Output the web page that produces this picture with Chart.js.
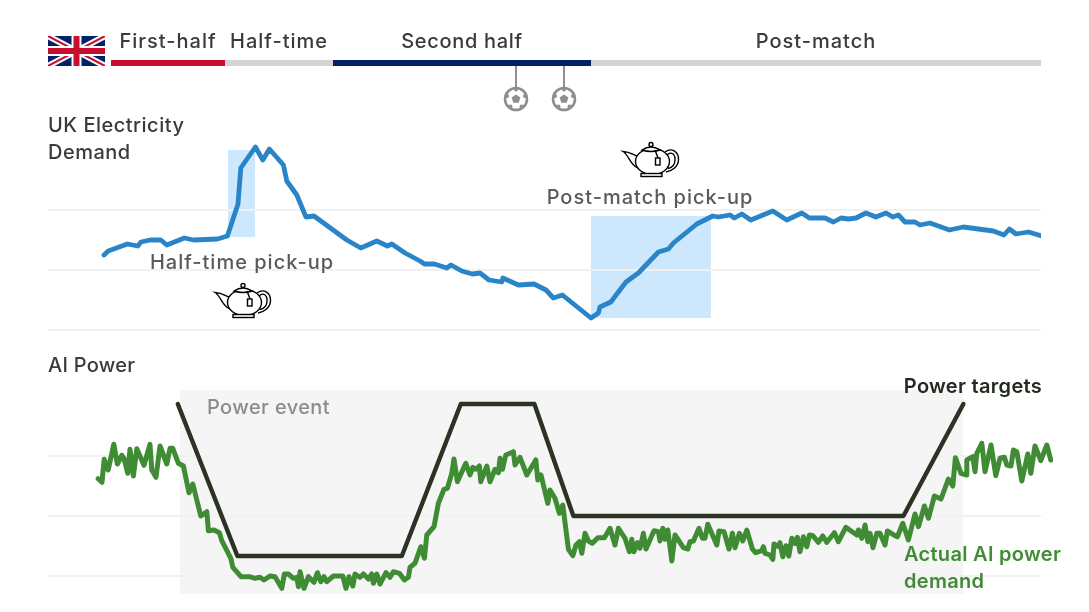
<!DOCTYPE html>
<html>
<head>
<meta charset="utf-8">
<title>UK Electricity Demand and AI Power</title>
<script src="https://cdn.jsdelivr.net/npm/chart.js@4/dist/chart.umd.min.js"></script>
<style>
  html, body { margin: 0; padding: 0; background: #fff; overflow: hidden; }
  canvas { position: absolute; left: 0; }
  #demandChart { top: 0; }
  #powerChart { top: 340px; }
</style>
</head>
<body>
<canvas id="demandChart" width="1089" height="340"></canvas>
<canvas id="powerChart" width="1089" height="272"></canvas>
<script>
// match timeline, x is notional minutes from kick-off
const phaseLabels = ['First-half', 'Half-time', 'Second half', 'Post-match'];
const phaseEdges = [0, 57, 111, 240, 465];
const phaseColors = ['#c8102e', '#d4d4d4', '#012169', '#d4d4d4'];
const goalTimes = [202.5, 226.5];
const timeMin = -31.5;
const timeMax = 465;

const demandTimes = [-3.5, -1.4, 8.2, 13.4, 15, 19.5, 24.9, 27.9, 36.7, 41.2, 53.2, 58.2, 63.5, 64.9, 72.2, 75.9, 79.2, 86.2, 87.9, 92.9,
  97.5, 101.5, 117.9, 124.9, 132.9, 138.2, 140.4, 147, 154.5, 156.7, 161.7, 167.9, 170, 175.4, 180.7, 184.5, 189, 195.4, 195.9, 203.7,
  211.5, 217.5, 221.2, 225.7, 240, 243.7, 244.5, 249.9, 257.5, 263.7, 273.7, 278.7, 281.2, 292.9, 300.9, 303.7, 309.5, 311.7, 315.4, 319.9,
  330.9, 337.9, 345.4, 349.2, 357, 361.2, 365, 368.7, 372.5, 377.5, 382.4, 387.5, 390.9, 393.7, 397, 402, 404.5, 409.5, 419.2, 426.2,
  441.2, 446.5, 449.2, 452.5, 458.7, 465.4];
const demandValues = [37.5, 37.9, 38.6, 38.4, 38.8, 39, 39, 38.5, 39.2, 39, 39.1, 39.4, 42.6, 46.2, 48.3, 47, 48.1, 46.5, 44.9, 43.5,
  41.3, 41.4, 39, 38.2, 38.9, 38.4, 38.6, 37.7, 36.9, 36.6, 36.6, 36.2, 36.5, 35.9, 35.6, 35.7, 35, 34.8, 35.2, 34.5,
  34.6, 34, 33.2, 33.5, 31.2, 31.7, 32.3, 32.8, 34.8, 35.7, 37.8, 38.1, 38.7, 40.6, 41.4, 41.3, 41.5, 41.2, 41.6, 41,
  41.9, 41, 41.7, 41.2, 41.2, 40.8, 41.2, 41.1, 41.2, 41.7, 41.3, 41.7, 41.3, 41.5, 40.8, 40.8, 40.5, 40.7, 40, 40.3,
  39.9, 39.5, 40.1, 39.6, 39.8, 39.4];
const demandTicks = [30, 36, 42];

const powerTimes = [-6.4, -4.5, -3.4, -1.4, 1.4, 3.2, 5.4, 6.5, 8.4, 9.5, 11.2, 12.9, 16.5, 19.5, 20.4, 22.5, 24.5, 27.9, 29.5, 30.9,
  33.7, 36.2, 39, 40.9, 44.9, 47.9, 48.7, 51.5, 54.2, 55.4, 59.9, 60.9, 65, 69.2, 72, 74.5, 76.5, 79.5, 82, 85.4,
  86.7, 88.7, 91.2, 92.9, 93.7, 94.5, 96.5, 98.7, 101.5, 103.2, 104.9, 106.5, 107.9, 111.2, 115.9, 117.5, 119, 120.9, 122, 124.5,
  126.2, 128.7, 130.4, 131.2, 132.9, 134.5, 137.5, 139.5, 141.2, 144.2, 146.7, 148.7, 149.5, 152, 154.9, 156.7, 157.9, 161.5, 163.7, 166.5,
  168.2, 170.4, 171.5, 173.2, 177.4, 179.5, 180.9, 182.5, 184.2, 184.9, 187.9, 189.5, 192, 193.7, 194.5, 195.7, 197.4, 201.2, 202, 204.5,
  207.9, 212.4, 213.4, 215, 218.4, 219.5, 222, 224.2, 225.9, 228.7, 230.9, 232.5, 234.2, 235.4, 237, 238.7, 240.7, 243.4, 246.7, 249.5,
  252, 253.7, 257, 259.2, 260.4, 261.5, 263.2, 264.5, 266.2, 267.5, 271.5, 273.7, 274.5, 275.9, 277, 278.4, 280.4, 282, 286.2, 288.4,
  289.5, 291.2, 294, 295.7, 297, 298.4, 302.9, 304, 306.5, 309, 310.7, 312, 314.2, 315.9, 317.9, 320.7, 322.4, 325.4, 326.2, 327,
  329.5, 330.9, 331.5, 333.7, 334.5, 335.9, 337.5, 338.9, 340.4, 342, 343.2, 344.5, 346.2, 347.9, 349.2, 350.9, 353.7, 355.9, 357.9, 361.7,
  363.7, 367.4, 372.9, 373.7, 375.4, 377, 378.4, 379.5, 381, 382.9, 384.5, 387, 388.2, 392, 393.2, 395.9, 398.7, 402, 403.7, 406.7,
  408.7, 411.7, 415, 418.7, 420.9, 422.2, 425, 427.5, 427.9, 430.9, 432, 432.9, 435.4, 437, 440, 442.4, 444.5, 446.7, 447.9, 450,
  451.2, 452.9, 455.4, 458.4, 459.9, 462, 464.9, 467.9, 469.9];
const powerValues = [197.3, 193.7, 216.7, 206, 231.7, 212, 220.7, 217.3, 202.7, 226.7, 200, 227.3, 210.7, 231.7, 206, 198.7, 230, 212, 227.7, 227.7,
  212.7, 210, 183.3, 192, 160, 164.3, 145.3, 146, 143.3, 135.3, 117.7, 108.7, 99.3, 99.3, 97.7, 98.7, 96, 100, 99.3, 87.7,
  102, 102, 97.7, 98.7, 89.3, 104.3, 87.7, 99.3, 93.7, 103.3, 94.3, 99.3, 94.3, 100, 100, 87.7, 99.3, 90, 102, 98.7,
  102, 97, 102, 92.7, 102, 92, 103.3, 98.7, 104.3, 102.7, 96, 98.7, 108.7, 112.7, 129.3, 117.7, 141, 149.3, 172.7, 186.7,
  187.7, 202.7, 217, 194.3, 212.7, 201, 208.7, 206.7, 210, 194.3, 210, 194.3, 206.7, 203.3, 217.7, 206.7, 221, 224.3, 211, 218.7,
  201, 216, 196, 201, 172.7, 186, 177.7, 162.7, 171, 126.7, 120.3, 131, 134.3, 122.7, 142.7, 135, 132.7, 138.3, 138.3, 147.7,
  131, 147.7, 137.7, 124.3, 136.7, 124.3, 133.3, 127.7, 142.7, 127, 145.3, 144.3, 135, 147.7, 136.7, 146, 115, 141, 128.3, 127,
  134.3, 135, 147.7, 137.7, 137.7, 151.7, 131, 145, 144.3, 127, 142.7, 128.3, 142.7, 135, 146, 127, 123.3, 125.3, 129.3, 122.7,
  121, 116.7, 132, 129.3, 133.3, 119.3, 130.3, 120, 137.7, 132.7, 138.7, 124.3, 139.3, 129.3, 141, 140.3, 133.7, 140, 133.7, 143.3,
  134.3, 148.7, 141, 146, 137.7, 151, 134.3, 142.7, 128.3, 142.7, 142.7, 131, 145, 140.3, 139.3, 152.7, 136, 162, 149.3, 170,
  157.7, 180, 177, 197, 190, 218.3, 202.7, 201, 216, 219.3, 204.3, 222.7, 232.7, 204.3, 231, 200.3, 217.7, 218.7, 211, 210,
  226, 224.3, 195, 222, 202.7, 230, 215.3, 231, 216];
const targetTimes = [33.4, 63.2, 145.4, 174.9, 211.7, 231.2, 396.2, 426.2];
const targetValues = [272, 120, 120, 272, 272, 160, 160, 272];
const powerTicks = [100, 160, 220];

const FONT = '"Inter", "Noto Sans", sans-serif';
const GRID_COLOR = '#f1f1f1';

function points(xs, ys) {
  return xs.map((x, i) => ({ x: x, y: ys[i] }));
}

function label(ctx, text, x, y, color, opts) {
  const o = opts || {};
  ctx.save();
  ctx.font = (o.weight || 500) + ' 20px ' + FONT;
  ctx.letterSpacing = (o.spacing === undefined ? 1 : o.spacing) + 'px';
  ctx.fillStyle = color;
  ctx.textAlign = o.align || 'left';
  ctx.textBaseline = 'middle';
  ctx.fillText(text, x, y);
  ctx.restore();
}

// shaded box given in data units
function shade(chart, x1, x2, y1, y2, color) {
  const sx = chart.scales.x, sy = chart.scales.y;
  const left = sx.getPixelForValue(x1), top = sy.getPixelForValue(y2);
  chart.ctx.fillStyle = color;
  chart.ctx.fillRect(left, top, sx.getPixelForValue(x2) - left, sy.getPixelForValue(y1) - top);
}

function drawFlag(ctx, x, y, w, h) {
  ctx.save();
  ctx.beginPath();
  ctx.rect(x, y, w, h);
  ctx.clip();
  ctx.fillStyle = '#012169';
  ctx.fillRect(x, y, w, h);
  ctx.lineWidth = 6;
  ctx.strokeStyle = '#fff';
  ctx.beginPath();
  ctx.moveTo(x, y); ctx.lineTo(x + w, y + h);
  ctx.moveTo(x + w, y); ctx.lineTo(x, y + h);
  ctx.stroke();
  ctx.lineWidth = 2;
  ctx.strokeStyle = '#c8102e';
  ctx.stroke();
  ctx.fillStyle = '#fff';
  ctx.fillRect(x + w / 2 - 5, y, 10, h);
  ctx.fillRect(x, y + h / 2 - 5, w, 10);
  ctx.fillStyle = '#c8102e';
  ctx.fillRect(x + w / 2 - 3, y, 6, h);
  ctx.fillRect(x, y + h / 2 - 3, w, 6);
  ctx.restore();
}

function drawBall(ctx, cx, cy) {
  ctx.save();
  ctx.strokeStyle = '#8f8f8f';
  ctx.fillStyle = '#8f8f8f';
  ctx.lineWidth = 2.6;
  ctx.beginPath();
  ctx.arc(cx, cy, 11, 0, Math.PI * 2);
  ctx.stroke();
  // centre patch
  ctx.beginPath();
  for (let i = 0; i < 5; i++) {
    const a = -Math.PI / 2 + i * Math.PI * 2 / 5;
    ctx.lineTo(cx + 4.6 * Math.cos(a), cy + 4.6 * Math.sin(a));
  }
  ctx.closePath();
  ctx.fill();
  // rim patches stay inside the ring
  for (let i = 0; i < 5; i++) {
    const a = -Math.PI / 2 + i * Math.PI * 2 / 5;
    ctx.beginPath();
    ctx.arc(cx + 9.4 * Math.cos(a), cy + 9.4 * Math.sin(a), 2, 0, Math.PI * 2);
    ctx.fill();
  }
  ctx.restore();
}

function drawTeapot(ctx, x, y) {
  ctx.save();
  ctx.translate(x, y);
  ctx.strokeStyle = '#000';
  ctx.lineWidth = 1.4;
  ctx.fillStyle = '#fff';
  ctx.beginPath();
  ctx.ellipse(42.5, 31.5, 17, 13, 0, 0, Math.PI * 2);
  ctx.fill();
  ctx.stroke();
  ctx.stroke(new Path2D('M27 26 C23 25 21 22 13 21.5 C19 25 20 35 28 38'));
  ctx.stroke(new Path2D('M55 22 C62 17 69 22 68.5 30 C68 37 62 41 56 42'));
  ctx.stroke(new Path2D('M57 25 C61 21 65.5 24 65 30 C65 36 60 38 58 38.5'));
  ctx.fill(new Path2D('M32 20 Q41 14 50 20 Q41 23 32 20 Z'));
  ctx.stroke(new Path2D('M32 20 Q41 14 50 20 Q41 23 32 20 Z'));
  ctx.stroke(new Path2D('M45 20 L48 28'));
  ctx.beginPath();
  ctx.arc(41, 14.5, 2, 0, Math.PI * 2);
  ctx.fill();
  ctx.stroke();
  ctx.fillRect(45.5, 28, 4.5, 7);
  ctx.strokeRect(45.5, 28, 4.5, 7);
  ctx.fillRect(31, 43.5, 21, 3);
  ctx.strokeRect(31, 43.5, 21, 3);
  ctx.restore();
}

const demandDecor = {
  id: 'demandDecor',
  beforeDraw(chart) {
    // pick-up boxes go under the grid lines
    shade(chart, 58.5, 72, 39.3, 48, '#cde8fd');
    shade(chart, 240, 300, 31.2, 41.4, '#cde8fd');
  },
  afterDraw(chart) {
    const ctx = chart.ctx, sx = chart.scales.x;
    drawFlag(ctx, 48, 36, 57, 30);
    phaseLabels.forEach((name, i) => {
      const left = sx.getPixelForValue(phaseEdges[i]);
      const right = sx.getPixelForValue(phaseEdges[i + 1]);
      ctx.fillStyle = phaseColors[i];
      ctx.fillRect(left, 60, right - left, 6);
      label(ctx, name, (left + right) / 2, 41.5, '#3a3a3a', { align: 'center', spacing: i === 2 ? 0.7 : 1 });
    });
    goalTimes.forEach(t => {
      const x = sx.getPixelForValue(t);
      ctx.fillStyle = '#8f8f8f';
      ctx.fillRect(x - 1, 66, 2, 22);
      drawBall(ctx, x, 99);
    });
    label(ctx, 'UK Electricity', 48, 126, '#3a3a3a', { spacing: 0.5 });
    label(ctx, 'Demand', 48, 153, '#3a3a3a', { spacing: 0.5 });
    label(ctx, 'Half-time pick-up', 242, 263, '#5a5a5a', { align: 'center' });
    label(ctx, 'Post-match pick-up', 650, 198, '#5a5a5a', { align: 'center' });
    drawTeapot(ctx, 202, 271);
    drawTeapot(ctx, 610, 130);
  }
};

const powerDecor = {
  id: 'powerDecor',
  beforeDraw(chart) {
    const ctx = chart.ctx, sx = chart.scales.x, sy = chart.scales.y;
    shade(chart, 34.5, 426, 82, 286, '#f5f5f5');
    // grid by hand here, the x range runs a bit past the last grid point
    ctx.save();
    ctx.strokeStyle = GRID_COLOR;
    ctx.lineWidth = 2;
    powerTicks.forEach(v => {
      const y = sy.getPixelForValue(v);
      ctx.beginPath();
      ctx.moveTo(sx.getPixelForValue(timeMin), y);
      ctx.lineTo(sx.getPixelForValue(timeMax), y);
      ctx.stroke();
    });
    ctx.restore();
  },
  afterDraw(chart) {
    const ctx = chart.ctx;
    label(ctx, 'AI Power', 48, 26, '#3a3a3a', { spacing: 0.25 });
    label(ctx, 'Power event', 207, 68, '#8c8c8c', { spacing: 0.4 });
    label(ctx, 'Power targets', 1042, 47, '#232b20', { align: 'right', spacing: 0.3, weight: 600 });
    label(ctx, 'Actual AI power', 904, 215, '#3f8c35', { spacing: 0.3, weight: 600 });
    label(ctx, 'demand', 904, 242, '#3f8c35', { spacing: 0.3, weight: 600 });
  }
};

function baseOptions(xMax, padRight, yMin, yMax, yTicks, padTop, padBottom) {
  return {
    responsive: false,
    animation: false,
    layout: { padding: { left: 48, right: padRight, top: padTop, bottom: padBottom } },
    plugins: { legend: { display: false }, tooltip: { enabled: false } },
    elements: { point: { radius: 0 }, line: { tension: 0, borderCapStyle: 'round', borderJoinStyle: 'round' } },
    scales: {
      x: { type: 'linear', min: timeMin, max: xMax, display: false },
      y: {
        min: yMin,
        max: yMax,
        border: { display: false },
        ticks: { display: false },
        grid: { color: GRID_COLOR, lineWidth: 2, drawTicks: false },
        afterBuildTicks(axis) { axis.ticks = yTicks.map(v => ({ value: v })); }
      }
    }
  };
}

new Chart(document.getElementById('demandChart'), {
  type: 'line',
  data: {
    datasets: [{
      data: points(demandTimes, demandValues),
      borderColor: '#2a85c8',
      borderWidth: 4.8
    }]
  },
  options: baseOptions(timeMax, 48, 30, 53, demandTicks, 100, 10),
  plugins: [demandDecor]
});

const powerOptions = baseOptions(471, 36, 76, 296, [], 40, 12);
powerOptions.scales.y.grid.display = false;

new Chart(document.getElementById('powerChart'), {
  type: 'line',
  data: {
    datasets: [{
      data: points(targetTimes, targetValues),
      borderColor: '#2a3324',
      borderWidth: 4.4
    }, {
      data: points(powerTimes, powerValues),
      borderColor: '#3f8c35',
      borderWidth: 5
    }]
  },
  options: powerOptions,
  plugins: [powerDecor]
});
</script>
</body>
</html>
